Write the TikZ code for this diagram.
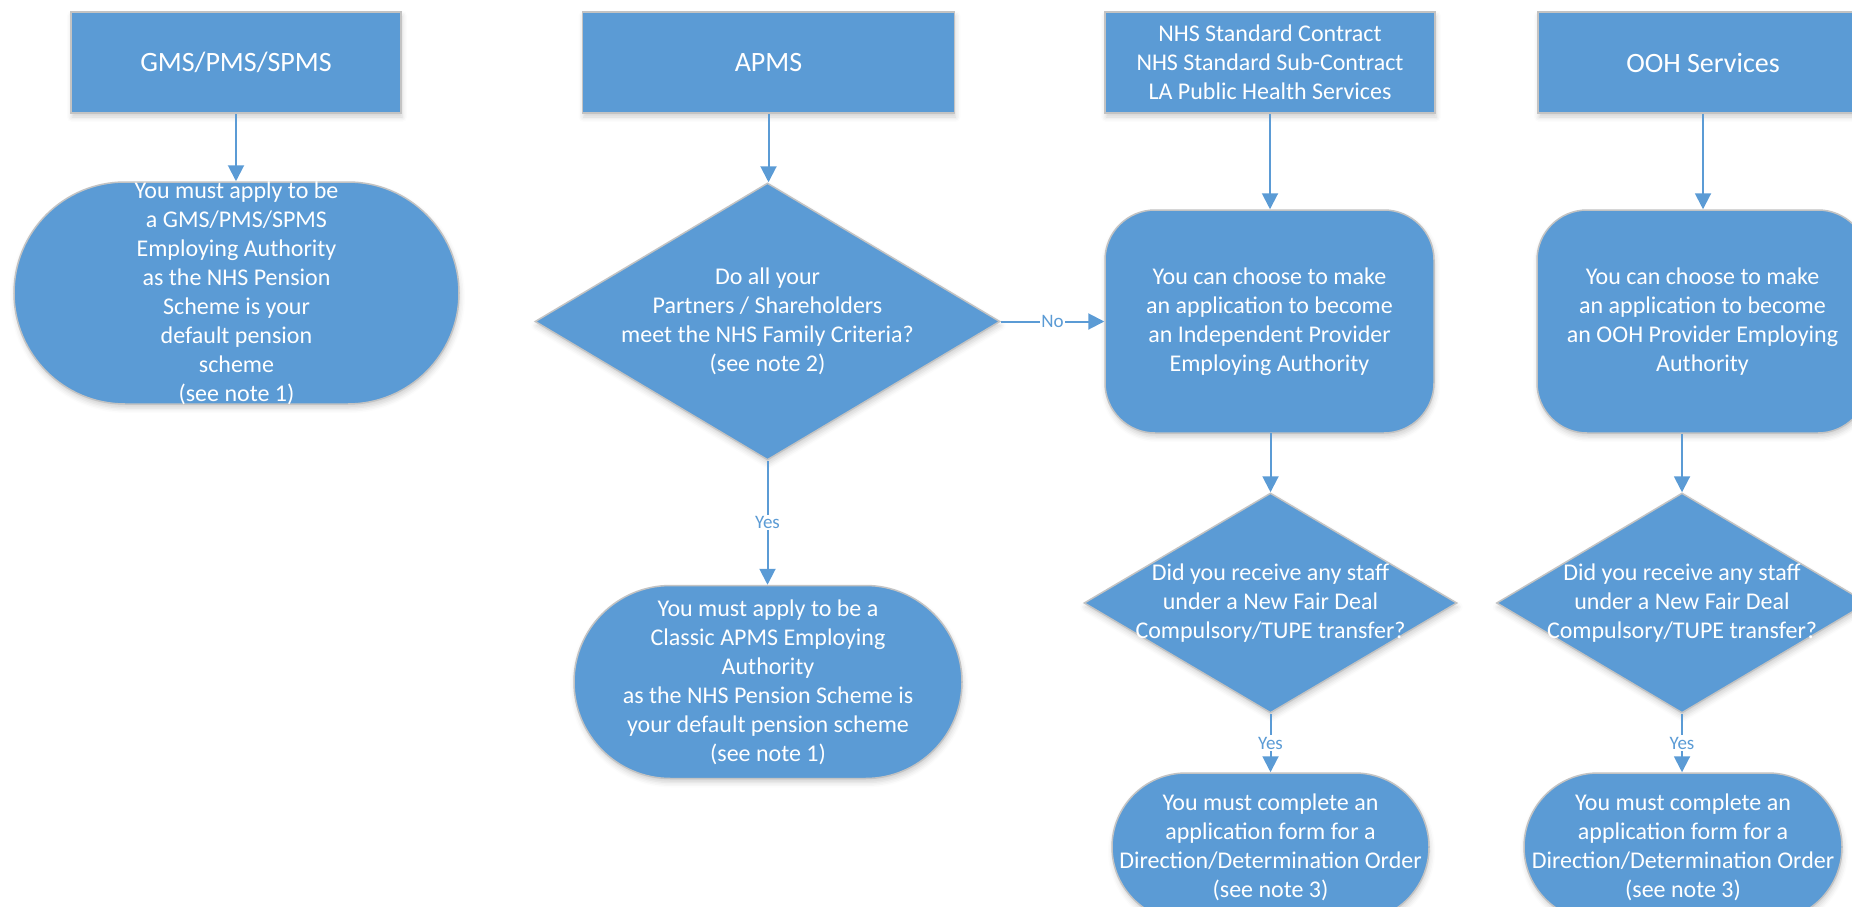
\documentclass[tikz,border=0pt]{standalone}
\usepackage{fontspec}
\setmainfont{Carlito}
\usetikzlibrary{shapes.geometric,shapes.misc,arrows.meta,shadows.blur}
\definecolor{vblue}{HTML}{5B9BD5}
\definecolor{vborder}{HTML}{C3C3C3}
\newcommand\txtsize{\fontsize{24}{29}\selectfont}
\begin{document}
\begin{tikzpicture}[x=1pt,y=1pt,
  shapebase/.style={fill=vblue, draw=vborder, line width=1.5pt, inner sep=0pt, text=white,
    blur shadow={shadow xshift=1pt, shadow yshift=-4pt, shadow blur radius=5pt, shadow opacity=18}},
  topbox/.style={shapebase, rectangle, minimum width=330pt, minimum height=101pt,
    font=\fontsize{28}{34}\selectfont, align=center},
  term/.style={shapebase, rounded rectangle},
  rbox/.style={shapebase, rectangle, rounded corners=50pt},
  decision/.style={shapebase, diamond},
  intext/.style={label={[text=white, align=center, font=\txtsize, inner sep=0pt]center:{#1}}},
  conn/.style={draw=vblue, line width=2pt, -{Triangle[length=16pt,width=16pt]}},
  lbl/.style={fill=white, inner sep=1.5pt, text=vblue, font=\fontsize{19}{22}\selectfont}
]
\useasboundingbox (0,0) rectangle (1852,-907);
\clip (0,0) rectangle (1852,-907);

% top boxes
\node[topbox] (gms) at (236,-62.5) {GMS/PMS/SPMS};
\node[topbox, minimum width=372pt] (apms) at (768.5,-62.5) {APMS};
\node[topbox, font=\txtsize] (nhs) at (1270,-62.5) {NHS Standard Contract\\NHS Standard Sub-Contract\\LA Public Health Services};
\node[topbox] (ooh) at (1703,-62.5) {OOH Services};

% column 1
\node[term, minimum width=445pt, minimum height=222pt,
  intext={You must apply to be\\a GMS/PMS/SPMS\\Employing Authority\\as the NHS Pension\\Scheme is your\\default pension\\scheme\\(see note 1)}] (t1) at (236.5,-293) {};

% column 2
\node[decision, minimum width=465pt, minimum height=277pt,
  intext={Do all your\\Partners / Shareholders\\meet the NHS Family Criteria?\\(see note 2)}] (d1) at (767.5,-321.5) {};
\node[term, minimum width=388pt, minimum height=193pt,
  intext={You must apply to be a\\Classic APMS Employing\\Authority\\as the NHS Pension Scheme is\\your default pension scheme\\(see note 1)}] (t2) at (768,-682) {};

% column 3
\node[rbox, minimum width=329pt, minimum height=223pt,
  intext={You can choose to make\\an application to become\\an Independent Provider\\Employing Authority}] (rb1) at (1269.5,-321.5) {};
\node[decision, minimum width=373pt, minimum height=220pt,
  intext={Did you receive any staff\\under a New Fair Deal\\Compulsory/TUPE transfer?}] (d3) at (1270.5,-603) {};
\node[term, minimum width=317pt, minimum height=148pt,
  intext={You must complete an\\application form for a\\Direction/Determination Order\\(see note 3)}] (t3) at (1270.5,-847) {};

% column 4
\node[rbox, minimum width=331pt, minimum height=223pt,
  intext={You can choose to make\\an application to become\\an OOH Provider Employing\\Authority}] (rb2) at (1702.5,-321.5) {};
\node[decision, minimum width=371pt, minimum height=220pt,
  intext={Did you receive any staff\\under a New Fair Deal\\Compulsory/TUPE transfer?}] (d4) at (1682,-603) {};
\node[term, minimum width=318pt, minimum height=148pt,
  intext={You must complete an\\application form for a\\Direction/Determination Order\\(see note 3)}] (t4) at (1683,-847) {};

% connectors
\draw[conn] (gms.south) -- (gms.south |- t1.north);
\draw[conn] (apms.south) -- (apms.south |- d1.north);
\draw[conn] (d1.east) -- node[lbl]{No} (rb1.west);
\draw[conn] (d1.south) -- node[lbl]{Yes} (d1.south |- t2.north);
\draw[conn] (nhs.south) -- (nhs.south |- rb1.north);
\draw[conn] (rb1.south) -- (rb1.south -| d3.north) -- (d3.north);
\draw[conn] (d3.south) -- node[lbl]{Yes} (d3.south |- t3.north);
\draw[conn] (ooh.south) -- (ooh.south |- rb2.north);
\draw[conn] (rb2.south -| d4.north) -- (d4.north);
\draw[conn] (d4.south) -- node[lbl]{Yes} (d4.south |- t4.north);
\end{tikzpicture}
\end{document}
